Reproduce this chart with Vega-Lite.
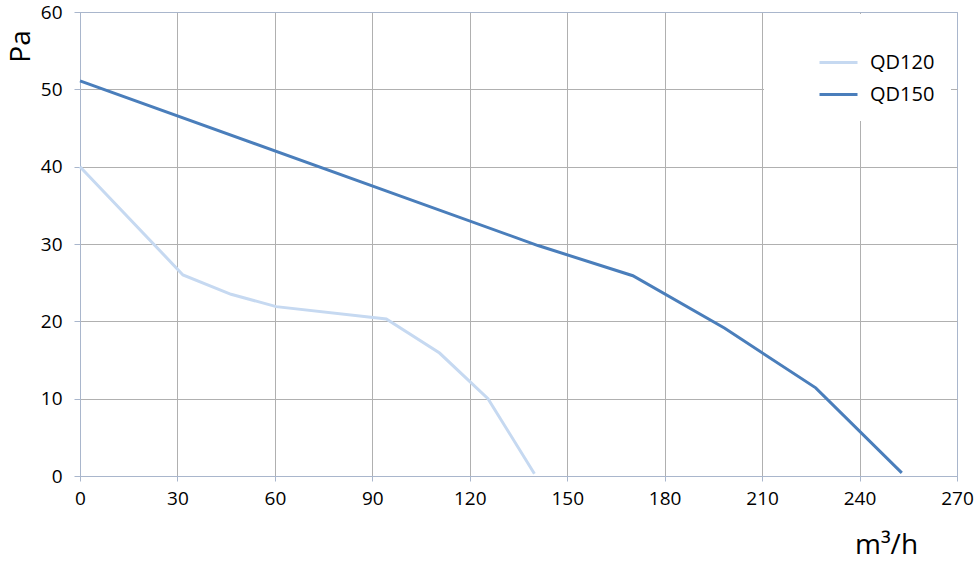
{
  "$schema": "https://vega.github.io/schema/vega-lite/v6.json",
  "width": 877,
  "height": 464,
  "autosize": {"type": "none"},
  "padding": {"left": 80, "top": 12, "right": 19, "bottom": 87},
  "background": "white",
  "config": {
    "font": "Open Sans",
    "view": {"stroke": "#a9b6cc", "strokeWidth": 1}
  },
  "data": {
    "values": [
      {"series": "QD120", "flow": 0, "pa": 40.0},
      {"series": "QD120", "flow": 31.7, "pa": 26.0},
      {"series": "QD120", "flow": 46.5, "pa": 23.5},
      {"series": "QD120", "flow": 60.4, "pa": 21.9},
      {"series": "QD120", "flow": 94.3, "pa": 20.3},
      {"series": "QD120", "flow": 110.7, "pa": 15.9},
      {"series": "QD120", "flow": 125.6, "pa": 10.0},
      {"series": "QD120", "flow": 139.9, "pa": 0.3},
      {"series": "QD150", "flow": 0, "pa": 51.1},
      {"series": "QD150", "flow": 141, "pa": 29.8},
      {"series": "QD150", "flow": 170.2, "pa": 25.9},
      {"series": "QD150", "flow": 198.5, "pa": 19.1},
      {"series": "QD150", "flow": 226.5, "pa": 11.4},
      {"series": "QD150", "flow": 253, "pa": 0.4}
    ]
  },
  "mark": {"type": "line", "strokeWidth": 3, "clip": false},
  "encoding": {
    "x": {
      "field": "flow",
      "type": "quantitative",
      "scale": {"domain": [0, 270], "nice": false, "zero": false},
      "axis": {
        "values": [0, 30, 60, 90, 120, 150, 180, 210, 240, 270],
        "title": "m³/h",
        "titleFont": "Open Sans",
        "titleFontSize": 28,
        "titleFontWeight": "normal",
        "titleColor": "#000000",
        "titleX": 806,
        "titleY": 77,
        "titleAlign": "center",
        "titleBaseline": "alphabetic",
        "labelFontSize": 19,
        "labelColor": "#000000",
        "labelBaseline": "alphabetic",
        "labelPadding": 23,
        "labelFlush": false,
        "labelOverlap": false,
        "tickSize": 5,
        "tickColor": "#a9b6cc",
        "domainColor": "#a9b6cc",
        "grid": true,
        "gridColor": {"condition": {"test": "datum.value === 270", "value": "#a9b6cc"}, "value": "#b0b0b0"},
        "gridWidth": 1
      }
    },
    "y": {
      "field": "pa",
      "type": "quantitative",
      "scale": {"domain": [0, 60], "nice": false},
      "axis": {
        "values": [0, 10, 20, 30, 40, 50, 60],
        "title": "Pa",
        "titleFont": "Open Sans",
        "titleFontSize": 28,
        "titleFontWeight": "normal",
        "titleColor": "#000000",
        "titleAngle": -90,
        "titleX": -51,
        "titleY": 34,
        "titleAlign": "center",
        "titleBaseline": "alphabetic",
        "labelFontSize": 19,
        "labelColor": "#000000",
        "labelPadding": 12,
        "labelFlush": false,
        "labelOverlap": false,
        "tickSize": 6,
        "tickColor": "#a9b6cc",
        "domainColor": "#a9b6cc",
        "grid": true,
        "gridColor": {"condition": {"test": "datum.value === 60", "value": "#a9b6cc"}, "value": "#b0b0b0"},
        "gridWidth": 1
      }
    },
    "color": {
      "field": "series",
      "type": "nominal",
      "scale": {"domain": ["QD120", "QD150"], "range": ["#c6d9f1", "#4a7ebb"]},
      "legend": {
        "orient": "none",
        "legendX": 684,
        "legendY": 2,
        "fillColor": "white",
        "padding": 16,
        "title": " ",
        "titleFontSize": 12,
        "titlePadding": 0,
        "symbolType": "stroke",
        "symbolSize": 1444,
        "symbolStrokeWidth": 3,
        "symbolOffset": 38,
        "labelFontSize": 20,
        "labelColor": "#000000",
        "labelOffset": 11,
        "rowPadding": 1
      }
    }
  }
}
